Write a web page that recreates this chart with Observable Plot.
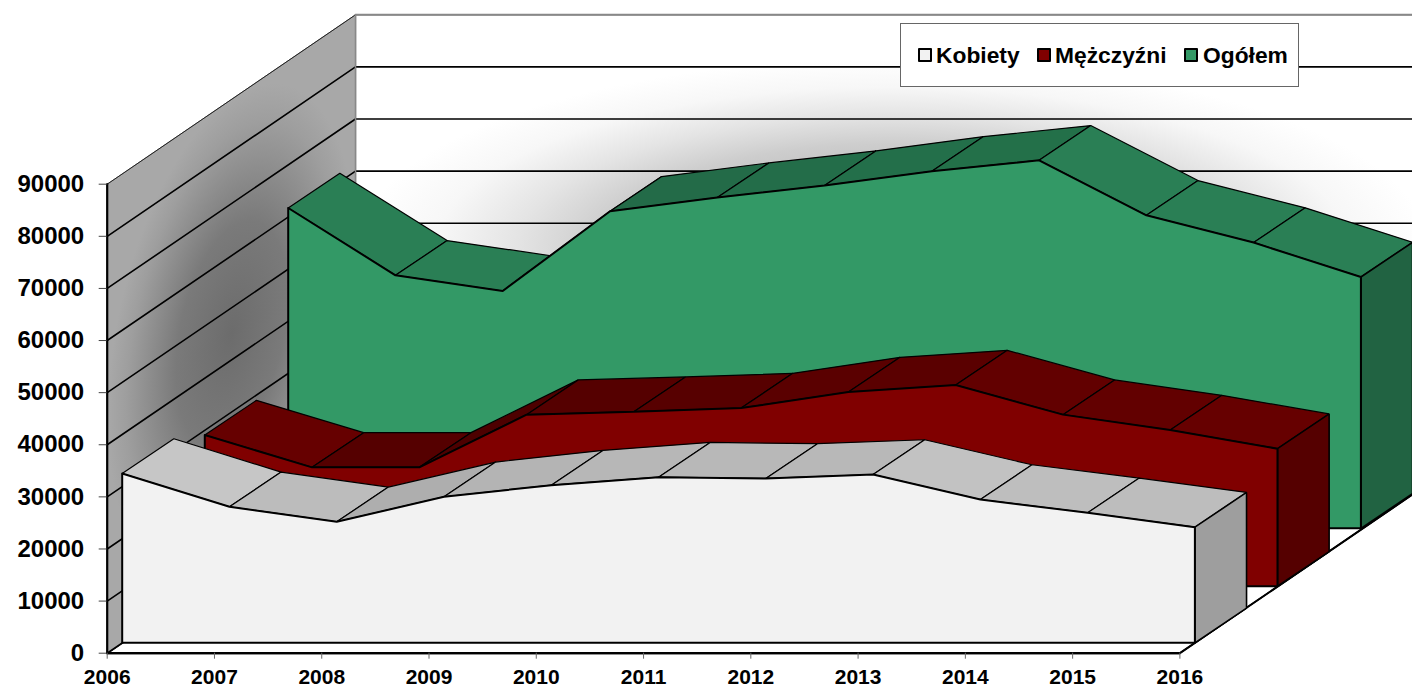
<!DOCTYPE html>
<html>
<head>
<meta charset="utf-8">
<script src="https://cdn.jsdelivr.net/npm/d3@7"></script>
<script src="https://cdn.jsdelivr.net/npm/@observablehq/plot@0.6"></script>
<style>
html,body{margin:0;padding:0;background:#fff;overflow:hidden}
#wrap{position:relative;width:1412px;height:688px;font-family:"Liberation Sans",Arial,sans-serif}
#wrap svg{display:block;background:#fff}
#legend{position:absolute;left:900px;top:23px;width:397px;height:62px;background:#fff;border:1.5px solid #666;font-weight:bold;font-size:22.8px;color:#000}
#legend .sw{position:absolute;top:24px;width:10px;height:10px;border:2.5px solid #000;border-radius:1px}
#legend .lb{position:absolute;top:18px;line-height:26px;white-space:nowrap}
</style>
</head>
<body>
<div id="wrap"></div>
<script>
const years = [2006, 2007, 2008, 2009, 2010, 2011, 2012, 2013, 2014, 2015, 2016];
const yTicks = [0, 10000, 20000, 30000, 40000, 50000, 60000, 70000, 80000, 90000];

const kobiety   = [32490, 26100, 23220, 28020, 30250, 31790, 31540, 32300, 27500, 24950, 22190];
const mezczyzni = [29020, 22820, 22820, 32940, 33510, 34200, 37280, 38620, 32940, 29980, 26410];
const ogolem    = [61480, 48560, 45550, 60840, 63470, 65780, 68520, 70630, 60080, 54840, 48230];

const kobietyTop   = ["#c6c6c6", "#bcbcbc", "#aeaeae", "#b4b4b4", "#b7b7b7", "#b8b8b8", "#b8b8b8", "#c2c2c2", "#bebebe", "#bdbdbd"];
const mezczyzniTop = ["#660000", "#550000", "#4d0000", "#550000", "#570000", "#5a0000", "#5a0000", "#620000", "#620000", "#660000"];
const ogolemTop    = ["#2a7f55", "#2a7f55", "#1f5f3f", "#236b48", "#236d49", "#236f4a", "#237049", "#2a7f55", "#2a7f55", "#2a7f55"];

// depth of the 3D box expressed in scale units, and where each series sits in it
const depthX = 2.3147, depthY = 32507, thickX = 0.208, thickY = 0.205;
const P = (year, value, dx, dy = dx) => ({x: year + dx * depthX, y: value + dy * depthY});

const seriesDefs = [
  {name: "Ogółem",    values: ogolem,    dx: 0.729, dy: 0.737, front: "#339966", side: "#216342", top: ogolemTop},
  {name: "Mężczyźni", values: mezczyzni, dx: 0.393, dy: 0.395, front: "#800000", side: "#550000", top: mezczyzniTop},
  {name: "Kobiety",   values: kobiety,   dx: 0.0604, dy: 0.0614, front: "#f2f2f2", side: "#9e9e9e", top: kobietyTop}
];

const face = (rows, fill, strokeWidth = 1, stroke = "#000") =>
  Plot.line([...rows, rows[0]], {x: "x", y: "y", fill, stroke, strokeWidth, strokeLinejoin: "miter"});
const edge = (rows, stroke = "#000", strokeWidth = 1) =>
  Plot.line(rows, {x: "x", y: "y", stroke, strokeWidth});

const y0 = years[0], y1 = years[years.length - 1];
const yMax = yTicks[yTicks.length - 1];

const gradients = () => {
  const g = d3.create("svg:g");
  g.html(`<defs>
    <radialGradient id="sideWall" gradientUnits="userSpaceOnUse" cx="0" cy="0" r="1"
      gradientTransform="matrix(124 -85 0 235 231 333)">
      <stop offset="0" stop-color="#6c6c6c"/><stop offset="0.45" stop-color="#7a7a7a"/>
      <stop offset="0.85" stop-color="#9e9e9e"/><stop offset="1" stop-color="#a8a8a8"/>
    </radialGradient>
    <radialGradient id="backWall" gradientUnits="userSpaceOnUse" cx="0" cy="0" r="1"
      gradientTransform="matrix(537 0 0 190 892 248)">
      <stop offset="0" stop-color="#a0a0a0"/><stop offset="0.55" stop-color="#cdcdcd"/>
      <stop offset="0.7" stop-color="#e4e4e4"/><stop offset="0.85" stop-color="#f7f7f7"/>
      <stop offset="1" stop-color="#ffffff"/>
    </radialGradient>
  </defs>`);
  return g.node();
};

const marks = [gradients];

// floor
marks.push(face([P(y0, 0, 0), P(y1, 0, 0), P(y1, 0, 1), P(y0, 0, 1)], "#fff", 2));
// walls
marks.push(face([P(y0, 0, 1), P(y1, 0, 1), P(y1, yMax, 1), P(y0, yMax, 1)], "url(#backWall)", 1.5, "#888"));
marks.push(face([P(y0, 0, 0), P(y0, 0, 1), P(y0, yMax, 1), P(y0, yMax, 0)], "url(#sideWall)", 1, "#777"));
// grid lines along both walls
for (const v of yTicks.slice(0, -1)) {
  marks.push(edge([P(y0, v, 0), P(y0, v, 1), P(y1, v, 1)], "#000", 1.6));
}
marks.push(edge([P(y0, 0, 0), P(y0, yMax, 0)], "#000", 2.2));
marks.push(edge([P(y0, yMax, 0), P(y0, yMax, 1)], "#222", 1));
marks.push(edge([P(y0, yMax, 1), P(y1, yMax, 1)], "#888", 2));
marks.push(edge([P(y0, 0, 1), P(y0, yMax, 1)], "#888", 1.5));
marks.push(edge([P(y0, 0, 0), P(y1, 0, 0)], "#000", 2.2));
marks.push(edge([P(y1, 0, 0), P(y1, 0, 1)], "#000", 1.6));

// the three ribbons, back to front
for (const s of seriesDefs) {
  const a = s.dx, b = s.dy, a2 = a + thickX, b2 = b + thickY;
  s.values.slice(0, -1).forEach((v, i) => {
    const w = s.values[i + 1];
    marks.push(face([P(years[i], v, a, b), P(years[i + 1], w, a, b), P(years[i + 1], w, a2, b2), P(years[i], v, a2, b2)], s.top[i], 1.2));
  });
  const last = s.values[s.values.length - 1];
  marks.push(face([P(y1, last, a, b), P(y1, last, a2, b2), P(y1, 0, a2, b2), P(y1, 0, a, b)], s.side, 1.6));
  marks.push(face([
    ...years.map((yr, i) => P(yr, s.values[i], a, b)),
    P(y1, 0, a, b), P(y0, 0, a, b)
  ], s.front, 2));
}

marks.push(Plot.axisY({ticks: yTicks, tickFormat: d => String(d), tickSize: 8, tickPadding: 15, fontSize: 24, fontWeight: "bold", label: null, stroke: "#444", fill: "#000", anchor: "left"}));
marks.push(Plot.axisX({ticks: years, tickFormat: d => String(d), tickSize: 6, tickPadding: 10, fontSize: 21, fontWeight: "bold", label: null, stroke: "#666", fill: "#000", anchor: "bottom"}));

const chart = Plot.plot({
  width: 1412,
  height: 688,
  marginLeft: 106.7, marginRight: 0, marginTop: 0, marginBottom: 35.3,
  style: {fontFamily: '"Liberation Sans", Arial, sans-serif', background: "#fff", overflow: "hidden"},
  x: {type: "linear", domain: [y0, y1], range: [106.7, 1179.4]},
  y: {type: "linear", domain: [0, yMax], range: [652.7, 183.7]},
  marks
});
const wrap = document.getElementById("wrap");
wrap.appendChild(chart);

// legend
const legendItems = [
  {label: "Kobiety",   color: "#f2f2f2", sw: 17,  text: 35},
  {label: "Mężczyźni", color: "#800000", sw: 136, text: 154},
  {label: "Ogółem",    color: "#339966", sw: 283, text: 302}
];
const legend = d3.select(wrap).append("div").attr("id", "legend");
for (const it of legendItems) {
  legend.append("span").attr("class", "sw").style("left", it.sw + "px").style("background", it.color);
  legend.append("span").attr("class", "lb").style("left", it.text + "px").text(it.label);
}
</script>
</body>
</html>
